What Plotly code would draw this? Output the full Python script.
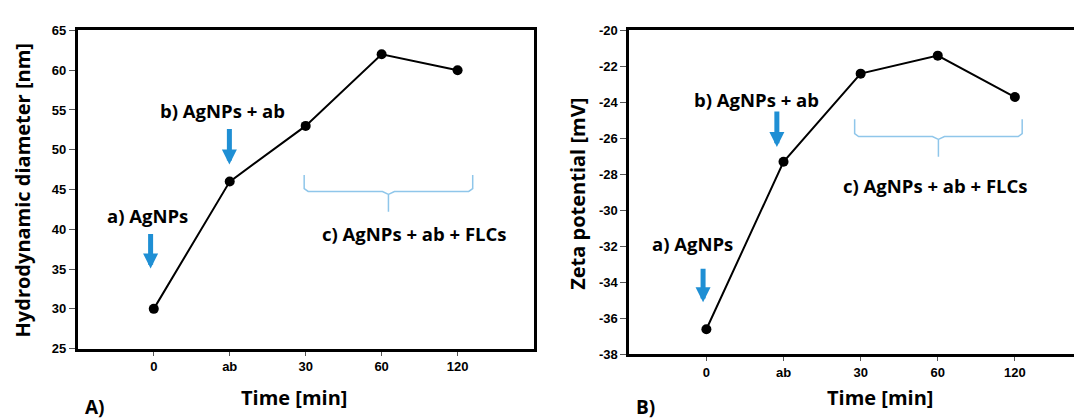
import plotly.graph_objects as go

categories = ["0", "ab", "30", "60", "120"]
diameter_nm = [30, 46, 53, 62, 60]
zeta_mV = [-36.6, -27.3, -22.4, -21.4, -23.7]
diameter_ticks = [25, 30, 35, 40, 45, 50, 55, 60, 65]
zeta_ticks = [-38, -36, -34, -32, -30, -28, -26, -24, -22, -20]
zeta_ticktext = ["-38", "-36", "-34", "-32", "-30", "-28", "-26", "-24", "-22", "-20"]

W, H = 1082, 420
def px(x):
    return x / W
def py(y):
    return 1 - y / H

BOLD = "Open Sans"
TICKF = dict(family="Liberation Sans", size=13, color="black", weight="bold")
ARROW = "#1f8fd4"
BRACE = "#8fc6ea"

fig = go.Figure()
idx = list(range(len(categories)))
fig.add_trace(go.Scatter(x=idx, y=diameter_nm, mode="lines+markers",
                         line=dict(color="black", width=2),
                         marker=dict(color="black", size=10),
                         xaxis="x", yaxis="y", showlegend=False))
fig.add_trace(go.Scatter(x=idx, y=zeta_mV, mode="lines+markers",
                         line=dict(color="black", width=2),
                         marker=dict(color="black", size=10),
                         xaxis="x2", yaxis="y2", showlegend=False))

xcommon = dict(tickmode="array", tickvals=idx, ticktext=categories,
               showgrid=False, zeroline=False, showline=True, linecolor="black",
               linewidth=3, mirror=True, ticks="outside", ticklen=4, tickwidth=1,
               tickcolor="#555", tickfont=TICKF)
ycommon = dict(showgrid=False, zeroline=False, showline=True, linecolor="black",
               linewidth=3, mirror=True, ticks="outside", ticklen=6, tickwidth=1,
               tickcolor="#555", tickfont=TICKF, tickmode="array")

fig.update_layout(
    width=W, height=H, margin=dict(l=0, r=0, t=0, b=0),
    paper_bgcolor="white", plot_bgcolor="white",
    xaxis=dict(xcommon, domain=[px(70), px(527)], range=[-1, 5], anchor="y"),
    yaxis=dict(ycommon, domain=[py(346), py(16)], range=[25, 65],
               tickvals=diameter_ticks, ticktext=[str(v) for v in diameter_ticks], anchor="x"),
    xaxis2=dict(xcommon, domain=[px(623), 1.0], range=[-1, 4.935], anchor="y2"),
    yaxis2=dict(ycommon, domain=[py(352), py(16)], range=[-38, -20],
                tickvals=zeta_ticks, ticktext=zeta_ticktext, anchor="x2"),
)

def label(text, x, y, size=18, angle=0):
    fig.add_annotation(text=text, x=px(x), y=py(y), xref="paper", yref="paper",
                       showarrow=False, textangle=angle,
                       font=dict(family=BOLD, size=size, color="black", weight="bold"),
                       xanchor="center", yanchor="middle")

def arrow(x, y0, y1):
    fig.add_annotation(x=px(x), y=py(y1), xref="paper", yref="paper",
                       ax=0, ay=-(y1 - y0), axref="pixel", ayref="pixel",
                       text="", showarrow=True, arrowhead=2, arrowsize=0.6,
                       arrowwidth=5, arrowcolor=ARROW, standoff=0, startstandoff=0)

def brace(x0, x1, ytop, ybar, ytip):
    xm = (x0 + x1) / 2
    pts = [(x0, ytop), (x0, ybar - 3), (x0 + 4, ybar), (xm - 6, ybar), (xm, ybar + 3),
           (xm, ytip), (xm, ybar + 3), (xm + 6, ybar), (x1 - 4, ybar), (x1, ybar - 3), (x1, ytop)]
    d = "M " + " L ".join(f"{px(a):.5f},{py(b):.5f}" for a, b in pts)
    fig.add_shape(type="path", path=d, xref="paper", yref="paper",
                  line=dict(color=BRACE, width=1.5))

# axis titles
label("Hydrodynamic diameter [nm]", 15, 182, size=20, angle=-90)
label("Zeta potential [mV]", 571, 185, size=20, angle=-90)
label("Time [min]", 287, 397, size=20)
label("Time [min]", 874, 397, size=20)
label("A)", 87, 406, size=19)
label("B)", 639, 407, size=19)

# panel A annotations
label("a) AgNPs", 140, 208, size=18.5)
arrow(143, 227, 263)
label("b) AgNPs + ab", 215, 99, size=18.5)
arrow(222, 118, 155)
brace(297, 466, 166, 183, 204)
label("c) AgNPs + ab + FLCs", 408, 227, size=18.5)

# panel B annotations
label("a) AgNPs", 686, 237, size=18.5)
arrow(697, 263, 298)
label("b) AgNPs + ab", 751, 88, size=18.5)
arrow(771, 100, 137)
brace(849, 1017, 108, 126, 147)
label("c) AgNPs + ab + FLCs", 930, 177, size=18.5)

fig.write_html("out.html")
